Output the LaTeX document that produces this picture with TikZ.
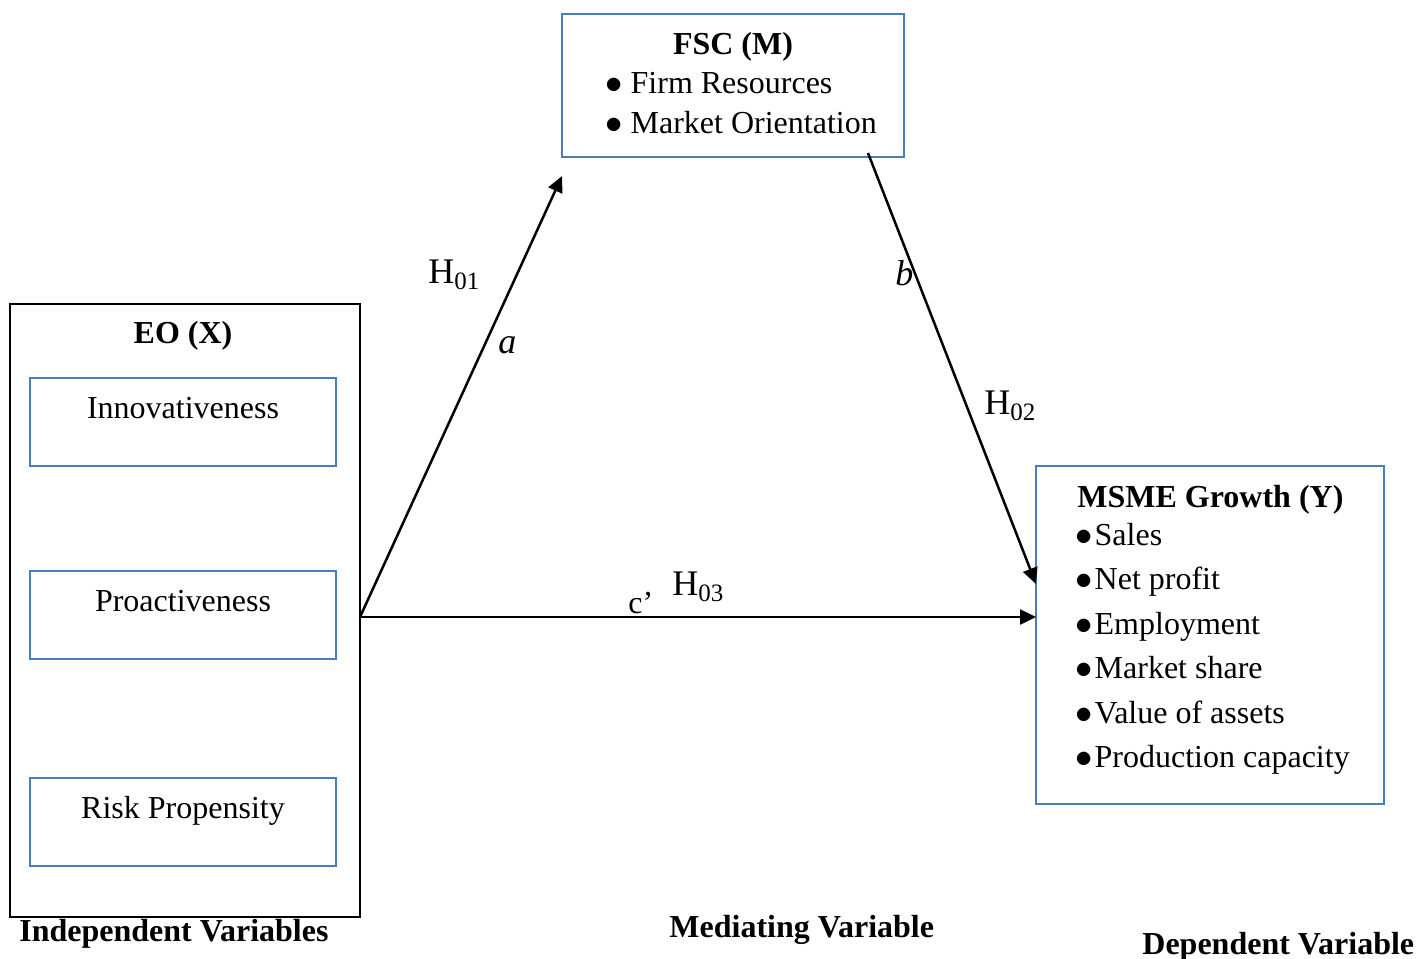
\documentclass[tikz,border=0pt]{standalone}
\usepackage{fontspec}
\setmainfont{Liberation Serif}
\usetikzlibrary{arrows.meta}
\definecolor{boxblue}{HTML}{4A7EBB}
\tikzset{
 bluebox/.style={draw=boxblue, line width=1pt, inner sep=0pt},
 blackbox/.style={draw=black, line width=0.75pt, inner sep=0pt},
 txt/.style={font=\fontsize{16}{19}\selectfont, inner sep=0pt},
 boldtxt/.style={font=\fontsize{16}{19}\selectfont\bfseries, inner sep=0pt},
 lbl/.style={font=\fontsize{18}{21}\selectfont, inner sep=0pt},
 conn/.style={line width=1.25pt, -{Triangle[length=8pt,width=7.5pt]}},
}
\newcommand\Hsub[1]{H\raisebox{-3pt}{\fontsize{12.5}{13}\selectfont #1}}
\newcommand\bul{$\bullet$}
\begin{document}
\begin{tikzpicture}[x=0.5pt,y=-0.5pt]
\useasboundingbox (0,0) rectangle (1420,959);
% FSC box
\node[bluebox, minimum width=171pt, minimum height=71.5pt] (fsc) at (733,85.5) {};
\node[boldtxt, anchor=base] (fsct) at (733,54) {FSC (M)};
\node[txt, anchor=base west] (fsc1) at (605,93) {\bul\hspace{4pt}Firm Resources};
\node[txt, anchor=base west] (fsc2) at (605,133) {\bul\hspace{4pt}Market Orientation};
% EO box
\node[blackbox, minimum width=175pt, minimum height=306.5pt] (eo) at (185,610.5) {};
\node[boldtxt, anchor=base] (eot) at (183,343) {EO (X)};
\node[bluebox, minimum width=153pt, minimum height=44pt] (inn) at (183,422) {};
\node[txt, anchor=base] (innt) at (183,418) {Innovativeness};
\node[bluebox, minimum width=153pt, minimum height=44pt] (pro) at (183,615) {};
\node[txt, anchor=base] (prot) at (183,611) {Proactiveness};
\node[bluebox, minimum width=153pt, minimum height=44pt] (risk) at (183,822) {};
\node[txt, anchor=base] (riskt) at (183,818) {Risk Propensity};
% MSME box
\node[bluebox, minimum width=174pt, minimum height=169pt] (msme) at (1210,635) {};
\node[boldtxt, anchor=base west] (msmet) at (1077,507) {MSME Growth (Y)};
\node[txt, anchor=base west] (m1) at (1075,545) {\bul\hspace{1pt}Sales};
\node[txt, anchor=base west] (m2) at (1075,589) {\bul\hspace{1pt}Net profit};
\node[txt, anchor=base west] (m3) at (1075,634) {\bul\hspace{1pt}Employment};
\node[txt, anchor=base west] (m4) at (1075,678) {\bul\hspace{1pt}Market share};
\node[txt, anchor=base west] (m5) at (1075,723) {\bul\hspace{1pt}Value of assets};
\node[txt, anchor=base west] (m6) at (1075,767) {\bul\hspace{1pt}Production capacity};
% connector endpoints
\coordinate (xout) at (360,617);
\coordinate (ain) at (562,176);
\coordinate (bout) at (868,153);
\coordinate (bin) at (1036,584);
\coordinate (cin) at (1036,617);
\draw[conn] (xout) -- (ain);
\draw[conn] (bout) -- (bin);
\draw[conn] (xout) -- (cin);
% labels
\node[lbl, anchor=base west] (h1) at (428,283) {\Hsub{01}};
\node[lbl, anchor=base west] (la) at (498,353) {\textit{a}};
\node[lbl, anchor=base west] (lb) at (895,285) {\textit{b}};
\node[lbl, anchor=base west] (h2) at (984,414) {\Hsub{02}};
\node[txt, anchor=base west] (lc) at (628,613) {c’};
\node[lbl, anchor=base west] (h3) at (672,595) {\Hsub{03}};
% bottom captions
\node[boldtxt, anchor=base west] (indep) at (19,941) {Independent Variables};
\node[boldtxt, anchor=base west] (medi) at (669,937) {Mediating Variable};
\node[boldtxt, anchor=base west] (dep) at (1142,954) {Dependent Variable};
\end{tikzpicture}
\end{document}
